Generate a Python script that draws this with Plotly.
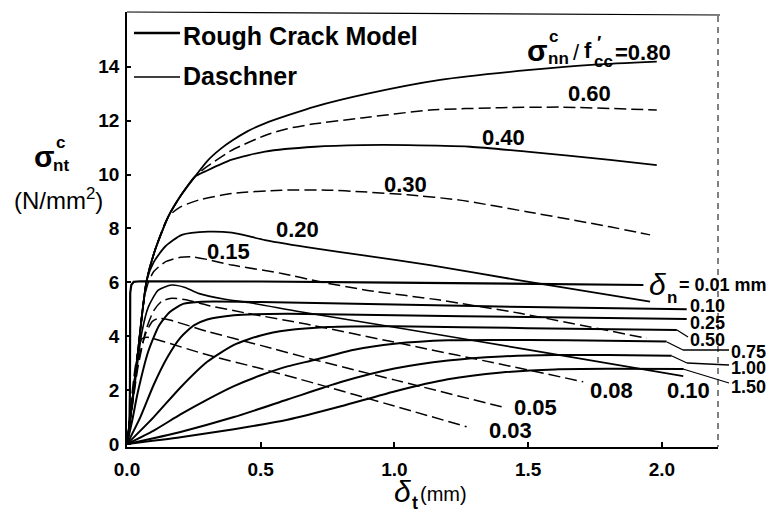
import plotly.graph_objects as go

# ---------------------------------------------------------------
# Shear stress sigma_nt^c versus crack slip delta_t
# ---------------------------------------------------------------

# Constant normal-stress ratio sigma_nn / f'_cc
ratio_080_x = [0, 0.012, 0.022, 0.03, 0.042, 0.055, 0.074, 0.105, 0.154, 0.2, 0.254, 0.3, 0.35, 0.392, 0.45, 0.516, 0.703, 0.9, 1.171, 1.507, 1.75, 1.981]
ratio_080_y = [0, 1.0, 1.8, 2.5, 3.5, 4.7, 6.09, 7.2, 8.43, 9.2, 9.92, 10.5, 10.95, 11.25, 11.6, 11.9, 12.52, 13.0, 13.51, 13.88, 14.08, 14.19]

ratio_060_x = [0, 0.012, 0.022, 0.03, 0.042, 0.055, 0.074, 0.105, 0.154, 0.2, 0.254, 0.3, 0.392, 0.516, 0.6, 0.7, 0.878, 1.133, 1.4, 1.63, 1.981]
ratio_060_y = [0, 1.0, 1.8, 2.5, 3.5, 4.7, 6.09, 7.2, 8.43, 9.2, 9.92, 10.3, 10.9, 11.45, 11.7, 11.88, 12.1, 12.39, 12.48, 12.5, 12.39]

ratio_040_x = [0, 0.012, 0.022, 0.03, 0.042, 0.055, 0.074, 0.105, 0.154, 0.2, 0.254, 0.3, 0.392, 0.516, 0.703, 0.878, 1.05, 1.283, 1.495, 1.806, 1.981]
ratio_040_y = [0, 1.0, 1.8, 2.5, 3.5, 4.7, 6.09, 7.2, 8.43, 9.2, 9.92, 10.15, 10.55, 10.85, 11.03, 11.09, 11.09, 11.03, 10.85, 10.54, 10.35]

ratio_030_x = [0, 0.012, 0.022, 0.03, 0.042, 0.055, 0.074, 0.105, 0.154, 0.2, 0.267, 0.392, 0.579, 0.75, 0.878, 1.05, 1.245, 1.495, 1.806, 1.956]
ratio_030_y = [0, 1.0, 1.8, 2.5, 3.5, 4.7, 6.09, 7.2, 8.43, 8.8, 9.05, 9.3, 9.42, 9.42, 9.36, 9.25, 9.05, 8.62, 8.06, 7.76]

ratio_020_x = [0, 0.012, 0.022, 0.03, 0.042, 0.055, 0.074, 0.1, 0.142, 0.205, 0.304, 0.392, 0.516, 0.703, 0.878, 1.133, 1.457, 1.956]
ratio_020_y = [0, 1.0, 1.8, 2.5, 3.5, 4.7, 6.09, 6.75, 7.32, 7.76, 7.88, 7.84, 7.57, 7.26, 7.01, 6.64, 6.09, 5.28]

ratio_015_x = [0, 0.012, 0.022, 0.03, 0.042, 0.055, 0.065, 0.08, 0.1, 0.142, 0.2, 0.242, 0.3, 0.392, 0.579, 0.722, 0.9, 1.171, 1.47, 1.944]
ratio_015_y = [0, 1.0, 1.8, 2.5, 3.5, 4.7, 5.45, 6.0, 6.4, 6.75, 6.93, 6.95, 6.85, 6.64, 6.33, 6.02, 5.7, 5.34, 4.85, 3.92]

# Rough Crack Model, constant crack opening delta_n (mm)
open_001_x = [0, 0.009, 0.011, 0.011, 0.012, 0.016, 0.025, 0.05, 0.5, 1.0, 1.5, 1.931]
open_001_y = [0, 0.6, 2.0, 4.5, 5.6, 5.9, 6.02, 6.04, 6.03, 5.99, 5.95, 5.9]

open_010_x = [0, 0.02, 0.04, 0.08, 0.12, 0.16, 0.21, 0.28, 0.5, 1.0, 1.5, 2.093]
open_010_y = [0, 0.9, 1.9, 3.45, 4.4, 4.9, 5.2, 5.28, 5.27, 5.18, 5.08, 5.0]

open_025_x = [0, 0.05, 0.1, 0.15, 0.2, 0.25, 0.3, 0.4, 0.6, 1.0, 1.5, 2.093]
open_025_y = [0, 1.0, 2.2, 3.2, 3.95, 4.4, 4.62, 4.78, 4.83, 4.78, 4.71, 4.64]

open_050_x = [0, 0.1, 0.2, 0.3, 0.4, 0.5, 0.6, 0.75, 1.0, 1.5, 2.056]
open_050_y = [0, 1.0, 2.1, 3.05, 3.68, 4.03, 4.22, 4.34, 4.37, 4.3, 4.23]

open_075_x = [0, 0.1, 0.2, 0.3, 0.4, 0.5, 0.6, 0.7, 0.85, 1.0, 1.2, 1.5, 1.8, 2.018]
open_075_y = [0, 0.5, 1.1, 1.65, 2.15, 2.55, 2.88, 3.12, 3.5, 3.72, 3.85, 3.86, 3.83, 3.8]

open_100_x = [0, 0.2, 0.4, 0.6, 0.8, 1.0, 1.2, 1.4, 1.6, 1.8, 2.037]
open_100_y = [0, 0.45, 1.0, 1.65, 2.3, 2.8, 3.1, 3.25, 3.3, 3.3, 3.28]

open_150_x = [0, 0.2, 0.4, 0.6, 0.8, 1.0, 1.2, 1.4, 1.6, 1.8, 2.081]
open_150_y = [0, 0.25, 0.55, 0.9, 1.4, 1.95, 2.4, 2.65, 2.77, 2.79, 2.78]

# Daschner, constant crack opening delta_n (mm)
dasch_010_x = [0, 0.015, 0.03, 0.055, 0.08, 0.117, 0.167, 0.217, 0.267, 0.366, 0.454, 0.647, 1.0, 1.47, 2.08]
dasch_010_y = [0, 1.1, 2.25, 4.11, 5.09, 5.71, 5.9, 5.81, 5.59, 5.37, 5.25, 4.91, 4.33, 3.55, 2.52]

dasch_008_x = [0, 0.02, 0.04, 0.07, 0.1, 0.13, 0.167, 0.22, 0.3, 0.45, 0.67, 1.0, 1.47, 1.706]
dasch_008_y = [0, 1.4, 2.8, 4.2, 4.95, 5.3, 5.41, 5.35, 5.15, 4.85, 4.45, 3.78, 2.81, 2.31]

dasch_005_x = [0, 0.02, 0.04, 0.07, 0.095, 0.117, 0.16, 0.3, 0.5, 0.703, 1.0, 1.401]
dasch_005_y = [0, 1.6, 3.0, 4.1, 4.55, 4.66, 4.6, 4.18, 3.66, 3.12, 2.38, 1.38]

dasch_003_x = [0, 0.015, 0.03, 0.045, 0.055, 0.075, 0.12, 0.3, 0.5, 0.703, 1.0, 1.27]
dasch_003_y = [0, 1.5, 2.8, 3.6, 3.9, 3.96, 3.85, 3.31, 2.8, 2.25, 1.41, 0.64]

x_ticks = [0, 0.5, 1.0, 1.5, 2.0]
x_tick_text = ["0.0", "0.5", "1.0", "1.5", "2.0"]
y_ticks = [0, 2, 4, 6, 8, 10, 12, 14]
y_tick_text = ["0", "2", "4", "6", "8", "10", "12", "14"]

# ---------------------------------------------------------------
W, H = 772, 519
PL, PR, PT, PB = 127, 718, 12, 447          # plot frame in pixels
FONT = "Liberation Sans, Arial, sans-serif"
DASH = "12px,5px"


def px(x):
    return (x - PL) / (PR - PL)


def py(y):
    return (PB - y) / (PB - PT)


fig = go.Figure()


def curve(xs, ys, dash="solid", width=1.8, shape="spline"):
    fig.add_trace(go.Scatter(
        x=xs, y=ys, mode="lines",
        line=dict(color="black", width=width, dash=dash, shape=shape,
                  smoothing=0.6 if shape == "spline" else None),
        hoverinfo="skip", showlegend=False))


# normal-stress family
curve(ratio_080_x, ratio_080_y, width=1.8)
curve(ratio_060_x, ratio_060_y, dash=DASH, width=1.5)
curve(ratio_040_x, ratio_040_y, width=1.8)
curve(ratio_030_x, ratio_030_y, dash=DASH, width=1.5)
curve(ratio_020_x, ratio_020_y, width=1.8)
curve(ratio_015_x, ratio_015_y, dash=DASH, width=1.5)

# Daschner opening family
curve(dasch_010_x, dasch_010_y, width=1.6)
curve(dasch_008_x, dasch_008_y, dash=DASH, width=1.5)
curve(dasch_005_x, dasch_005_y, dash=DASH, width=1.5)
curve(dasch_003_x, dasch_003_y, dash=DASH, width=1.5)

# Rough Crack Model opening family
curve(open_001_x, open_001_y, width=2.2, shape="linear")
curve(open_010_x, open_010_y, width=2.0)
curve(open_025_x, open_025_y, width=2.0)
curve(open_050_x, open_050_y, width=2.0)
curve(open_075_x, open_075_y, width=2.0)
curve(open_100_x, open_100_y, width=2.0)
curve(open_150_x, open_150_y, width=2.0)

shapes = []


def seg(x0, y0, x1, y1, width=1.5, dash="solid"):
    shapes.append(dict(type="line", xref="paper", yref="paper",
                       x0=px(x0), y0=py(y0), x1=px(x1), y1=py(y1),
                       line=dict(color="black", width=width, dash=dash)))


# frame: top and broken right edge
seg(PL, PT, PR + 2, PT + 3, width=1.2)
seg(PR, PT + 4, PR, PB, width=1.0, dash="6px,5px")

# legend samples
seg(134, 33, 180, 33, width=2.6)
seg(134, 77, 180, 77, width=1.5)

# leaders to the delta_n labels
seg(677, 330, 688, 337, width=1.3)
seg(667, 342, 683, 350, width=1.3)
seg(683, 350, 729, 350, width=1.3)
seg(672, 356, 687, 363, width=1.3)
seg(687, 363, 729, 365, width=1.3)
seg(683, 369, 729, 383, width=1.3)

annotations = []


def label(text, x, y, size=22, anchor="center", bold=True, italic=False,
          family=FONT, box_h=None):
    t = text
    if bold:
        t = "<b>" + t + "</b>"
    if italic:
        t = "<i>" + t + "</i>"
    a = dict(text=t, xref="paper", yref="paper", x=px(x), y=py(y),
             xanchor=anchor, yanchor="middle", showarrow=False, borderpad=0,
             font=dict(family=family, size=size, color="black"))
    if box_h:
        a["height"] = box_h
    annotations.append(a)


# legend text
label("Rough Crack Model", 182, 36, size=25, anchor="left")
label("Daschner", 182, 76, size=25, anchor="left")

# ratio heading and values
label("σ", 537, 50, size=30)
label("c", 553, 36, size=17)
label("nn", 547, 58, size=17, anchor="left")
label("/", 576, 52, size=22, bold=False)
label("f", 588, 51, size=22)
label("′", 599, 43, size=18)
label("cc", 593, 61, size=17, anchor="left")
label("=0.80", 614, 52, size=22, anchor="left")
label("0.60", 589, 94)
label("0.40", 504, 137)
label("0.30", 405, 184)
label("0.20", 297, 230)
label("0.15", 228, 251)

# delta_n labels, Rough Crack Model
label("δ", 657, 285, size=30, bold=False, italic=True)
label("n", 672, 297, size=17)
label("= 0.01 mm", 678, 285, size=18, anchor="left")
label("0.10", 689, 305, size=18, anchor="left", box_h=15)
label("0.25", 689, 322, size=18, anchor="left", box_h=15)
label("0.50", 689, 339, size=18, anchor="left", box_h=15)
label("0.75", 730, 351, size=18, anchor="left", box_h=15)
label("1.00", 730, 367, size=18, anchor="left", box_h=15)
label("1.50", 730, 386, size=18, anchor="left", box_h=15)

# delta_n labels, Daschner
label("0.08", 611, 390)
label("0.10", 688, 390)
label("0.05", 535, 407)
label("0.03", 510, 430)

# axis titles
label("σ", 44, 156, size=30)
label("c", 60, 142, size=17)
label("nt", 61, 165, size=17)
label("(N/mm<sup>2</sup>)", 58, 199, size=24, bold=False)
label("δ", 402, 491, size=30, bold=False, italic=True)
label("t", 415, 503, size=18)
label("(mm)", 419, 494, size=20, anchor="left", bold=False)

fig.update_layout(
    width=W, height=H,
    margin=dict(l=PL, r=W - PR, t=PT, b=H - PB, pad=0),
    paper_bgcolor="white", plot_bgcolor="white",
    showlegend=False,
    font=dict(family=FONT, color="black"),
    shapes=shapes, annotations=annotations,
    xaxis=dict(range=[0, 2.21], tickvals=x_ticks, ticktext=x_tick_text,
               ticks="inside", ticklen=5, tickwidth=1.5, tickcolor="black",
               showline=True, linewidth=2, linecolor="black",
               showgrid=False, zeroline=False, ticklabelstandoff=4,
               tickfont=dict(family=FONT, size=19, color="black", weight="bold")),
    yaxis=dict(range=[-0.11, 16.03], tickvals=y_ticks, ticktext=y_tick_text,
               ticks="inside", ticklen=4, tickwidth=1.5, tickcolor="black",
               showline=True, linewidth=1.6, linecolor="black",
               showgrid=False, zeroline=False, ticklabelstandoff=2,
               tickfont=dict(family=FONT, size=19, color="black", weight="bold")),
)

fig.write_html("out.html")
